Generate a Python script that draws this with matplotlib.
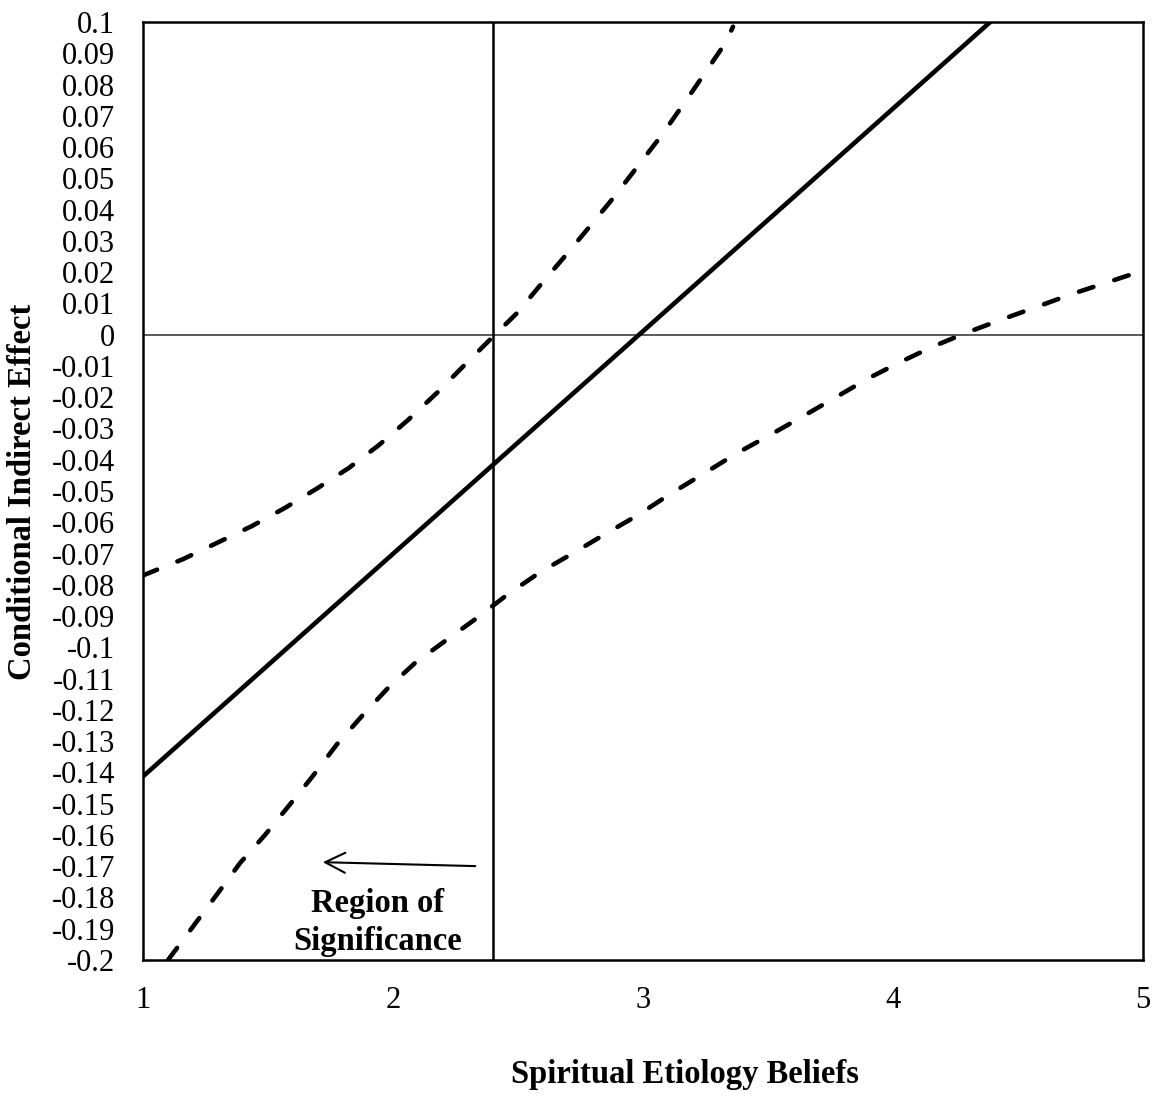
import matplotlib
matplotlib.use("Agg")
import matplotlib.pyplot as plt
import numpy as np

plt.rcParams['font.family'] = ['Liberation Serif', 'DejaVu Serif']

# moderator values and conditional indirect effect
x_effect = [1.0, 5.0]
effect = [-0.1413, 0.1435]

# upper confidence bound
x_upper = [1.0, 1.16, 1.296, 1.436, 1.568, 1.70, 1.824, 1.944, 2.06, 2.176, 2.29,
           2.408, 2.496, 2.596, 2.692, 2.788, 2.884, 2.98, 3.072, 3.16, 3.248,
           3.332, 3.36]
upper = [-0.0770, -0.0718, -0.0666, -0.0612, -0.0554, -0.049, -0.0426, -0.0353,
         -0.0273, -0.0186, -0.0094, 0.0, 0.0069, 0.0165, 0.0255, 0.0347, 0.044,
         0.054, 0.0635, 0.0735, 0.0837, 0.0936, 0.0985]

# lower confidence bound
x_lower = [1.10, 1.16, 1.296, 1.388, 1.488, 1.58, 1.676, 1.776, 1.88, 1.98, 2.088,
           2.208, 2.336, 2.46, 2.588, 2.72, 2.848, 2.98, 3.108, 3.252, 3.376,
           3.508, 3.64, 3.772, 3.896, 4.028, 4.16, 4.29, 4.43, 4.572, 4.716,
           4.86, 5.0]
lower = [-0.200, -0.1936, -0.179, -0.169, -0.160, -0.151, -0.1415, -0.131, -0.1216,
         -0.113, -0.105, -0.098, -0.0906, -0.083, -0.076, -0.0699, -0.0638,
         -0.0577, -0.051, -0.044, -0.0379, -0.0321, -0.0261, -0.020, -0.0142,
         -0.0088, -0.0038, 0.0005, 0.0047, 0.0088, 0.013, 0.0168, 0.0205]

jn_point = 2.4
yticks = np.round(np.arange(-0.2, 0.1001, 0.01), 2)
ytick_labels = ['0' if abs(v) < 1e-9 else ('%g' % v) for v in yticks]
xticks = [1, 2, 3, 4, 5]

fig = plt.figure(figsize=(11.59, 10.99), dpi=100)
ax = fig.add_axes([0.1234, 0.1265, 0.8628, 0.8535])

ax.axhline(0, color='#5a5a5a', lw=1.4, zorder=1)
ax.axvline(jn_point, color='black', lw=1.8, zorder=1)

ax.plot(x_effect, effect, color='black', lw=3.3, solid_capstyle='butt', zorder=3)
ax.plot(x_upper, upper, color='black', lw=3.3, linestyle=(0, (3.3, 4.8)),
        dash_capstyle='round', zorder=3)
ax.plot(x_lower, lower, color='black', lw=3.3, linestyle=(0, (3.3, 4.8)),
        dash_capstyle='round', zorder=3)

ax.set_xlim(1, 5)
ax.set_ylim(-0.2, 0.1)
ax.set_xticks(xticks)
ax.set_xticklabels([str(v) for v in xticks])
ax.set_yticks(yticks)
ax.set_yticklabels(ytick_labels)
ax.tick_params(axis='both', length=0, labelsize=22)
ax.tick_params(axis='y', pad=20)
ax.tick_params(axis='x', pad=19)
for s in ax.spines.values():
    s.set_linewidth(1.8)
    s.set_color('black')

ax.annotate('', xy=(1.708, -0.1687), xytext=(2.34, -0.170),
            arrowprops=dict(arrowstyle='->', color='black', lw=1.5,
                            mutation_scale=36))
ax.text(1.94, -0.188, 'Region of\nSignificance', ha='center', va='center',
        fontsize=23.5, fontweight='bold', linespacing=1.3)

fig.text(0.591, 1 - 1074 / 1099, 'Spiritual Etiology Beliefs', ha='center',
         va='center', fontsize=23.5, fontweight='bold')
fig.text(23 / 1159, 1 - 492 / 1099, 'Conditional Indirect Effect', ha='center',
         va='center', rotation=90, fontsize=23.5, fontweight='bold')

fig.savefig('out.png', dpi=100)
